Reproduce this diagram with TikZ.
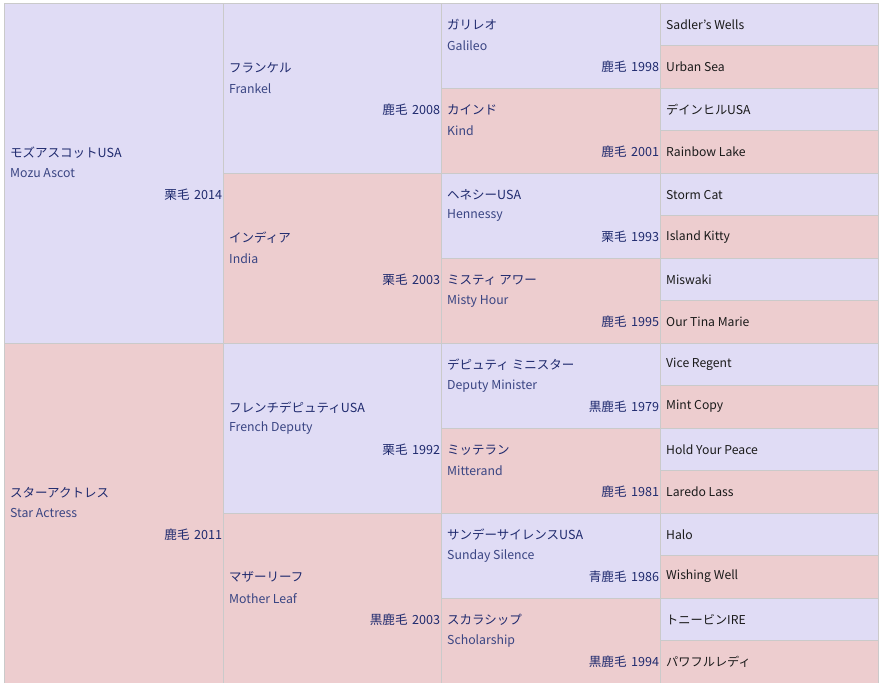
\documentclass[tikz,border=0pt]{standalone}
\usepackage{fontspec}
\setmainfont{Noto Sans CJK JP}
\definecolor{lav}{HTML}{E0DCF5}
\definecolor{pnk}{HTML}{EDCDCF}
\definecolor{gridc}{HTML}{CACACA}
\definecolor{jpc}{HTML}{1F2A6E}
\definecolor{enc}{HTML}{3A4583}
\definecolor{leafc}{HTML}{1A1A1A}
\tikzset{
  cell/.style={draw=gridc, line width=0.8pt, inner sep=0pt, anchor=north west},
  jpname/.style={font=\fontsize{12.5}{14}\selectfont, text=jpc, inner sep=0pt, anchor=west},
  enname/.style={font=\fontsize{12.3}{14}\selectfont, text=enc, inner sep=0pt, anchor=west},
  coat/.style={font=\fontsize{12.6}{14}\selectfont, text=jpc, inner sep=0pt, anchor=east},
  leaftext/.style={font=\fontsize{12.2}{14}\selectfont, text=leafc, inner sep=0pt, anchor=west}
}
\newcommand\horse[9]{%
  \node[cell, fill=#6, minimum width=#4pt, minimum height=#5pt] (#1) at (#2,#3) {};
  \node[jpname] (#1-jp) at ([xshift=6pt,yshift=21pt]#1.west) {#7};
  \node[enname] (#1-en) at ([xshift=6pt]#1.west) {#8};
  \node[coat] (#1-coat) at ([xshift=-1.5pt,yshift=-21pt]#1.east) {#9};
}
\newcommand\leaf[4]{%
  \node[cell, fill=#3, minimum width=218pt, minimum height=42.5pt] (#1) at (660,#2) {};
  \node[leaftext] (#1-t) at ([xshift=6pt]#1.west) {#4};
}
\newcommand\cs[2]{#1\hspace{4.5pt}#2}
\begin{document}
\begin{tikzpicture}[x=1pt,y=-1pt]
\useasboundingbox (0,0) rectangle (879,683);
\fill[white] (0,0) rectangle (879,683);
% generation 1
\horse{g1a}{4}{3}{219}{340}{lav}{モズアスコットUSA}{Mozu Ascot}{\cs{栗毛}{2014}}
\horse{g1b}{4}{343}{219}{340}{pnk}{スターアクトレス}{Star Actress}{\cs{鹿毛}{2011}}
% generation 2
\horse{g2a}{223}{3}{218}{170}{lav}{フランケル}{Frankel}{\cs{鹿毛}{2008}}
\horse{g2b}{223}{173}{218}{170}{pnk}{インディア}{India}{\cs{栗毛}{2003}}
\horse{g2c}{223}{343}{218}{170}{lav}{フレンチデピュティUSA}{French Deputy}{\cs{栗毛}{1992}}
\horse{g2d}{223}{513}{218}{170}{pnk}{マザーリーフ}{Mother Leaf}{\cs{黒鹿毛}{2003}}
% generation 3
\horse{g3a}{441}{3}{219}{85}{lav}{ガリレオ}{Galileo}{\cs{鹿毛}{1998}}
\horse{g3b}{441}{88}{219}{85}{pnk}{カインド}{Kind}{\cs{鹿毛}{2001}}
\horse{g3c}{441}{173}{219}{85}{lav}{ヘネシーUSA}{Hennessy}{\cs{栗毛}{1993}}
\horse{g3d}{441}{258}{219}{85}{pnk}{ミスティ アワー}{Misty Hour}{\cs{鹿毛}{1995}}
\horse{g3e}{441}{343}{219}{85}{lav}{デピュティ ミニスター}{Deputy Minister}{\cs{黒鹿毛}{1979}}
\horse{g3f}{441}{428}{219}{85}{pnk}{ミッテラン}{Mitterand}{\cs{鹿毛}{1981}}
\horse{g3g}{441}{513}{219}{85}{lav}{サンデーサイレンスUSA}{Sunday Silence}{\cs{青鹿毛}{1986}}
\horse{g3h}{441}{598}{219}{85}{pnk}{スカラシップ}{Scholarship}{\cs{黒鹿毛}{1994}}
% generation 4
\leaf{g4a}{3}{lav}{Sadler's Wells}
\leaf{g4b}{45}{pnk}{Urban Sea}
\leaf{g4c}{88}{lav}{デインヒルUSA}
\leaf{g4d}{130}{pnk}{Rainbow Lake}
\leaf{g4e}{173}{lav}{Storm Cat}
\leaf{g4f}{215}{pnk}{Island Kitty}
\leaf{g4g}{258}{lav}{Miswaki}
\leaf{g4h}{300}{pnk}{Our Tina Marie}
\leaf{g4i}{343}{lav}{Vice Regent}
\leaf{g4j}{385}{pnk}{Mint Copy}
\leaf{g4k}{428}{lav}{Hold Your Peace}
\leaf{g4l}{470}{pnk}{Laredo Lass}
\leaf{g4m}{513}{lav}{Halo}
\leaf{g4n}{555}{pnk}{Wishing Well}
\leaf{g4o}{598}{lav}{トニービンIRE}
\leaf{g4p}{640}{pnk}{パワフルレディ}
\end{tikzpicture}
\end{document}
